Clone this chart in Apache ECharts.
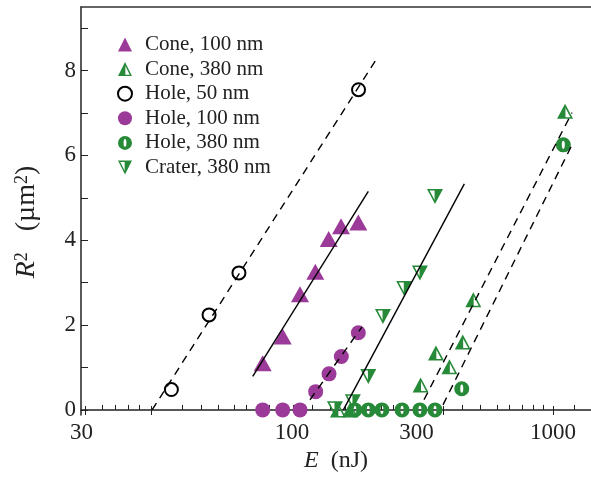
<!DOCTYPE html>
<html>
<head>
<meta charset="utf-8">
<script src="https://cdn.jsdelivr.net/npm/echarts@6/dist/echarts.min.js"></script>
<style>
  html, body { margin: 0; padding: 0; background: #fff; }
  #chart { width: 591px; height: 477px; }
</style>
</head>
<body>
<div id="chart"></div>
<script>
// values: E in nJ, R^2 in um^2
const cone100E = [77.2, 92.1, 107.3, 122.8, 138.2, 154.1, 179.5];
const cone100R = [1.10, 1.73, 2.73, 3.26, 4.03, 4.33, 4.42];
const cone380E = [150, 167, 311, 356, 401, 451, 495, 1112];
const cone380R = [0, 0, 0.59, 1.34, 1.02, 1.60, 2.60, 7.04];
const hole50E = [34.5, 48.1, 62.6, 179.8];
const hole50R = [0.48, 2.24, 3.23, 7.55];
const hole100E = [77.2, 92.1, 107.3, 123.2, 138.6, 154.5, 179.5];
const hole100R = [0, 0, 0, 0.43, 0.85, 1.26, 1.82];
const hole380E = [174, 196, 221, 264, 309, 353, 447, 1095];
const hole380R = [0, 0, 0, 0, 0, 0, 0.50, 6.25];
const crater380E = [146, 171, 196, 223, 269, 309, 353];
const crater380R = [0.03, 0.19, 0.79, 2.20, 2.86, 3.23, 5.03];

// fitted lines, two end points each
const fitHole50E = [29.1, 213.6];
const fitHole50R = [0, 8.33];
const fitCone100E = [70.7, 196.0];
const fitCone100R = [0.79, 5.15];
const fitHole100E = [117.2, 185.4];
const fitHole100R = [0.24, 1.96];
const fitCrater380E = [157.3, 457.3];
const fitCrater380R = [0, 5.33];
const fitCone380E = [320.4, 1182];
const fitCone380R = [0.24, 7.01];
const fitHole380E = [378.9, 1193];
const fitHole380R = [0.12, 6.30];

// axis ticks
const xLabelValues = [15.6, 100, 300, 1000];
const xMinorTicks = [18.7, 21, 23.5, 26, 38, 45, 52, 60, 67, 74, 82, 90, 101, 120, 140, 160, 180, 200, 220, 245, 270, 300, 340, 450, 525, 610, 680, 760, 840, 920, 1210];
const xMajorTicks = [16.1, 29, 380, 1000];
const yLabelValues = [0, 2, 4, 6, 8];
const yTickValues = [0, 1, 2, 3, 4, 5, 6, 7, 8, 9];

const xMin = 15.54;
const xMax = 1398;

const purple = '#9b3a98';
const green = '#268a38';
const serif = '"Liberation Serif", "DejaVu Serif", serif';

const zip = (xs, ys) => xs.map((x, i) => [x, ys[i]]);

// half filled markers, holes drawn with opposite winding
const coneHalf = 'path://M10 0L0 20L10 20Z M10 0L20 20L10 20Z M10.5 5.47L10.5 18L16.76 18Z';
const craterHalf = 'path://M10 0L20 0L10 20Z M0 0L10 0L10 20Z M3.24 2L9.5 14.53L9.5 2Z';
const holeSlit = 'path://M0 10A10 10 0 1 1 20 10A10 10 0 1 1 0 10Z M8 10A2 5.5 0 1 0 12 10A2 5.5 0 1 0 8 10Z';

const scatter = (name, data, symbol, size, style) => ({
    name: name,
    type: 'scatter',
    data: data,
    symbol: symbol,
    symbolSize: size,
    itemStyle: Object.assign({ opacity: 1 }, style),
    z: 2
});

const fit = (data, dashed) => ({
    type: 'line',
    data: data,
    symbol: 'none',
    silent: true,
    lineStyle: { color: '#000', width: 1.4, type: dashed ? [8, 6] : 'solid' },
    z: 5
});

const logAxis = {
    type: 'log',
    logBase: 10,
    min: xMin,
    max: xMax,
    splitLine: { show: false }
};

const chart = echarts.init(document.getElementById('chart'));

chart.setOption({
    animation: false,
    backgroundColor: '#fff',
    grid: { left: 81, right: 0, top: 7, bottom: 62, outerBoundsMode: 'none' },
    legend: {
        orient: 'vertical',
        left: 112,
        top: 29,
        itemWidth: 14,
        itemHeight: 14,
        itemGap: 3.6,
        textStyle: { fontFamily: serif, fontSize: 21, color: '#222', padding: [0, 0, 0, 8] },
        data: ['Cone, 100 nm', 'Cone, 380 nm', 'Hole, 50 nm', 'Hole, 100 nm', 'Hole, 380 nm', 'Crater, 380 nm']
    },
    xAxis: [
        Object.assign({}, logAxis, {
            position: 'bottom',
            name: '{i|E}  (nJ)',
            nameLocation: 'middle',
            nameGap: 30,
            nameTextStyle: {
                fontFamily: serif, fontSize: 24, color: '#222',
                rich: { i: { fontFamily: serif, fontSize: 24, fontStyle: 'italic', color: '#222' } }
            },
            axisLine: { lineStyle: { color: '#222', width: 1.5 } },
            axisTick: { inside: true, length: 5, customValues: xMinorTicks, lineStyle: { color: '#222' } },
            axisLabel: {
                customValues: xLabelValues,
                margin: 6,
                fontFamily: serif, fontSize: 23, color: '#222',
                formatter: (v) => (v < 20 ? '30' : String(Math.round(v)))
            }
        }),
        Object.assign({}, logAxis, {
            position: 'top',
            axisLine: { lineStyle: { color: '#333', width: 1.5 } },
            axisTick: { show: false },
            axisLabel: { show: false }
        }),
        Object.assign({}, logAxis, {
            position: 'bottom',
            axisLine: { show: false },
            axisTick: { inside: true, length: 9, customValues: xMajorTicks, lineStyle: { color: '#222' } },
            axisLabel: { show: false }
        })
    ],
    yAxis: {
        type: 'value',
        min: -0.12,
        max: 9.5,
        name: '{i|R}{s|2}   (µm{s|2})',
        nameLocation: 'middle',
        nameGap: 40,
        nameTextStyle: {
            fontFamily: serif, fontSize: 28, color: '#222',
            padding: [0, 22, 0, 0],
            rich: {
                i: { fontFamily: serif, fontSize: 28, fontStyle: 'italic', color: '#222' },
                s: { fontFamily: serif, fontSize: 18, color: '#222', verticalAlign: 'top', padding: [0, 0, 10, 0] }
            }
        },
        splitLine: { show: false },
        axisLine: { show: true, lineStyle: { color: '#222', width: 1.5 } },
        axisTick: { show: true, inside: true, length: 7, customValues: yTickValues, lineStyle: { color: '#222' } },
        axisLabel: { customValues: yLabelValues, margin: 5, fontFamily: serif, fontSize: 23, color: '#222' }
    },
    series: [
        scatter('Cone, 100 nm', zip(cone100E, cone100R), 'triangle', [18, 16], { color: purple }),
        scatter('Cone, 380 nm', zip(cone380E, cone380R), coneHalf, [16, 15], { color: green }),
        scatter('Hole, 50 nm', zip(hole50E, hole50R), 'emptyCircle', 13, { color: '#000', borderColor: '#000', borderWidth: 3 }),
        scatter('Hole, 100 nm', zip(hole100E, hole100R), 'circle', 15, { color: purple }),
        scatter('Hole, 380 nm', zip(hole380E, hole380R), holeSlit, 15, { color: green }),
        scatter('Crater, 380 nm', zip(crater380E, crater380R), craterHalf, [16, 15], { color: green }),
        fit(zip(fitHole50E, fitHole50R), true),
        fit(zip(fitCone100E, fitCone100R), false),
        fit(zip(fitHole100E, fitHole100R), true),
        fit(zip(fitCrater380E, fitCrater380R), false),
        fit(zip(fitCone380E, fitCone380R), true),
        fit(zip(fitHole380E, fitHole380R), true)
    ]
});
</script>
</body>
</html>
